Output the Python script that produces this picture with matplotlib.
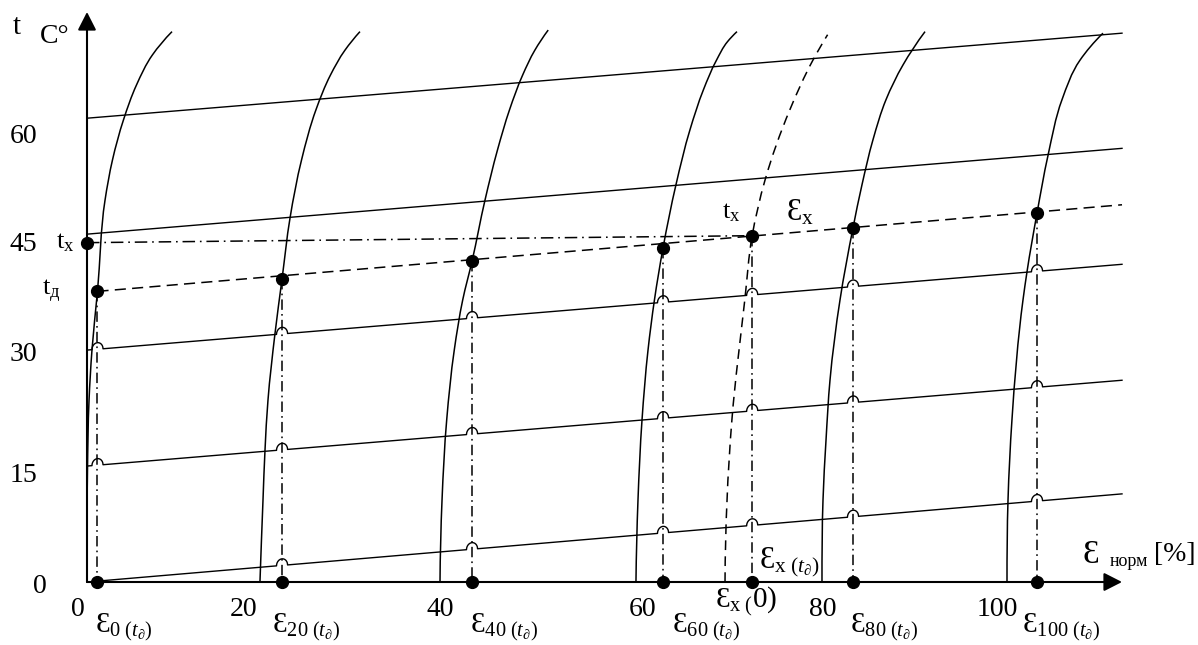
import numpy as np
import matplotlib
matplotlib.use("Agg")
import matplotlib.pyplot as plt
from matplotlib.path import Path
from matplotlib.patches import PathPatch

plt.rcParams['font.family'] = ['Liberation Serif', 'DejaVu Serif']
plt.rcParams['mathtext.fontset'] = 'custom'
plt.rcParams['mathtext.rm'] = 'Liberation Serif'
plt.rcParams['mathtext.it'] = 'Liberation Serif:italic'
plt.rcParams['mathtext.bf'] = 'Liberation Serif:bold'
plt.rcParams['mathtext.fallback'] = 'stix'
plt.rcParams['lines.scale_dashes'] = False

# ---------------- data ----------------
# strain curves eps(t) for the nominal strains 0..100 %
curve_0_eps = [0.0, 0.05, 0.22, 0.54, 1.14, 1.96, 2.77, 3.97, 5.38, 7.12, 9.24]
curve_0_t = [0.0, 14.5, 23.5, 30.0, 37.6, 49.4, 54.6, 59.8, 64.3, 68.2, 71.2]
curve_20_eps = [18.8, 19.13, 19.35, 19.67, 20.43, 21.2, 22.07, 23.32, 24.89, 26.47, 28.04, 29.67]
curve_20_t = [0.0, 10.6, 17.1, 23.5, 32.1, 39.2, 47.1, 54.6, 61.1, 65.6, 68.8, 71.2]
curve_40_eps = [38.37, 38.59, 39.1, 39.92, 40.84, 41.85, 43.26, 44.62, 45.93, 47.36, 48.68, 50.13]
curve_40_t = [0.0, 10.6, 21.0, 30.0, 36.5, 41.5, 49.4, 55.9, 61.1, 65.6, 68.8, 71.4]
curve_60_eps = [59.67, 59.89, 60.33, 60.98, 61.68, 62.61, 64.02, 65.54, 67.01, 68.42, 69.62, 70.65]
curve_60_t = [0.0, 10.6, 21.0, 30.0, 36.5, 43.2, 51.4, 58.5, 63.7, 67.5, 69.9, 71.2]
curve_80_eps = [79.89, 80.0, 80.33, 80.76, 81.85, 83.26, 84.24, 85.43, 86.85, 88.7, 91.09]
curve_80_t = [0.0, 10.6, 18.4, 26.1, 36.5, 45.8, 51.4, 57.2, 62.4, 66.9, 71.2]
curve_100_eps = [100.0, 100.11, 100.54, 101.74, 102.17, 103.26, 104.46, 105.98, 107.93, 110.43]
curve_100_t = [0.0, 10.6, 21.0, 36.5, 40.1, 47.7, 55.2, 62.4, 67.5, 71.0]
# dashed curve eps_x
curve_x_eps = [69.35, 70.1, 71.5, 72.3, 73.7, 76.4, 78.9, 80.5]
curve_x_t = [0.0, 21.0, 36.5, 44.8, 52.0, 61.1, 67.5, 70.8]

# isotherms (solid straight lines) : t at eps=0 and at eps=112.5
iso_start = [0, 15, 30, 45, 60]
iso_end = [11.4, 26.1, 41.1, 56.1, 71.0]
iso_eps_end = 112.5

# dashed t_d line
td_eps = [1.14, 112.5]
td_t = [37.6, 48.8]

# intersection points of t_d line with curves
dot_eps = [1.14, 21.2, 41.85, 62.61, 83.26, 103.26]
dot_t = [37.6, 39.2, 41.5, 43.2, 45.8, 47.7]

# t_x point
tx_eps, tx_t = 72.3, 44.8
tx_axis_t = 43.9

x_ticks = [0, 20, 40, 60, 80, 100]
y_ticks = [0, 15, 30, 45, 60]
sub_labels = ['0', '20', '40', '60', '80', '100']

# ---------------- figure ----------------
W, H = 1198, 645
fig = plt.figure(figsize=(W / 100, H / 100), dpi=100)
ax = fig.add_axes([0, 0, 1, 1])
px_x, px_y = 9.2, 7.73
x0px, y0px = 87, 582
ax.set_xlim(-x0px / px_x, (W - x0px) / px_x)
ax.set_ylim(-(H - y0px) / px_y, y0px / px_y)
ax.axis('off')

K = 'black'


def smooth_path(xs, ts):
    """Cubic Hermite (as Bezier path) through the read points, x as function of t."""
    xs = np.asarray(xs, float)
    ts = np.asarray(ts, float)
    n = len(xs)
    h = np.diff(ts)
    d = np.diff(xs) / h
    m = np.zeros(n)
    for i in range(1, n - 1):
        m[i] = (h[i] * d[i - 1] + h[i - 1] * d[i]) / (h[i - 1] + h[i])
    m[0] = max(0.0, ((2 * h[0] + h[1]) * d[0] - h[0] * d[1]) / (h[0] + h[1]))
    me = ((2 * h[-1] + h[-2]) * d[-1] - h[-1] * d[-2]) / (h[-1] + h[-2])
    m[-1] = min(max(me, d[-1]), 1.4 * d[-1])
    verts = [(xs[0], ts[0])]
    codes = [Path.MOVETO]
    for i in range(n - 1):
        verts += [(xs[i] + m[i] * h[i] / 3, ts[i] + h[i] / 3),
                  (xs[i + 1] - m[i + 1] * h[i] / 3, ts[i + 1] - h[i] / 3),
                  (xs[i + 1], ts[i + 1])]
        codes += [Path.CURVE4] * 3
    return Path(verts, codes)


dashdot = (0, (7.5, 3.0, 1.2, 3.0))

# vertical dash-dot lines
for e, t in zip(dot_eps, dot_t):
    ax.plot([e, e], [t, 0], color=K, lw=1.1, linestyle=dashdot, zorder=2)
ax.plot([tx_eps, tx_eps], [tx_t, 0], color=K, lw=1.1, linestyle=dashdot, zorder=2)

# horizontal dash-dot t_x
ax.plot([0, tx_eps], [tx_axis_t, tx_t], color=K, lw=1.1,
        linestyle=(0, (9, 3.5, 1.2, 3.5)), zorder=2)

# isotherms with hops over the vertical lines
cross_eps = dot_eps + [tx_eps]
cross_top = dot_t + [tx_t]
rx, ry = 0.6, 0.85
for a, b in zip(iso_start, iso_end):
    def tl(e):
        return a + (b - a) * e / iso_eps_end
    xs, ys = [0.0], [a]
    for e, top in sorted(zip(cross_eps, cross_top)):
        if tl(e) >= top or (a == 0 and e < 5):
            continue
        th = np.linspace(np.pi, 0, 19)
        ex = e + rx * np.cos(th)
        xs += list(ex)
        ys += list(tl(ex) + ry * np.sin(th))
    xs.append(iso_eps_end)
    ys.append(b)
    ax.plot(xs, ys, color=K, lw=1.0, zorder=3, solid_joinstyle='round')

# t_d dashed line
ax.plot(td_eps, td_t, color=K, lw=1.1, linestyle=(0, (8, 4.5)), zorder=3)

# strain curves
for ce, ct in [(curve_0_eps, curve_0_t), (curve_20_eps, curve_20_t),
               (curve_40_eps, curve_40_t), (curve_60_eps, curve_60_t),
               (curve_80_eps, curve_80_t), (curve_100_eps, curve_100_t)]:
    ax.add_patch(PathPatch(smooth_path(ce, ct), fill=False, ec=K, lw=1.1, zorder=4))
ax.add_patch(PathPatch(smooth_path(curve_x_eps, curve_x_t), fill=False, ec=K,
                       lw=1.1, linestyle=(0, (7, 4.5)), zorder=4))

# axes with arrows
arrow = dict(arrowstyle='-|>,head_length=0.55,head_width=0.28',
             lw=1.5, color=K, shrinkA=0, shrinkB=0, mutation_scale=20)
ax.annotate('', xy=(0, (y0px - 12) / px_y), xytext=(0, 0), arrowprops=arrow, zorder=5)
ax.annotate('', xy=(iso_eps_end, 0), xytext=(0, 0), arrowprops=arrow, zorder=5)

# dots
ms = 8.5
ax.plot(dot_eps, dot_t, 'o', color=K, ms=ms, zorder=6)
ax.plot(dot_eps, [0] * len(dot_eps), 'o', color=K, ms=ms, zorder=6)
ax.plot([tx_eps, tx_eps, 0], [tx_t, 0, tx_axis_t], 'o', color=K, ms=ms, zorder=6)

# ---------------- text ----------------
fs = 20
ax.text(-7.6, 71.8, 't', fontsize=21, ha='center', va='center')
ax.text(-3.5, 70.6, 'C°', fontsize=20, ha='center', va='center')
ytick_pos = [-0.6, 13.8, 29.4, 43.6, 57.6]
for v, yp in zip(y_ticks, ytick_pos):
    ax.text(-4.35 if v == 0 else -5.4, yp, str(v), fontsize=fs, ha='right', va='center')
xtick_pos = [-1.0, 17.0, 38.4, 60.4, 80.0, 98.9]
for v, xp in zip(x_ticks, xtick_pos):
    ax.text(xp, -3.6, str(v), fontsize=fs, ha='center', va='center')

lab_pos = [0.9, 20.1, 41.6, 63.6, 82.9, 101.6]
for s, xp in zip(sub_labels, lab_pos):
    ax.text(xp, -5.85, r'$\mathrm{Ɛ}_{\mathrm{%s\ (}t_{\partial}\mathrm{)}}$' % s,
            fontsize=21, ha='left', va='center')

ax.text(-3.4, 43.9, r'$\mathrm{t}_{\mathrm{x}}$', fontsize=19, ha='left', va='center')
ax.text(-4.9, 37.6, r'$\mathrm{t}_{\mathrm{д}}$', fontsize=19, ha='left', va='center')
ax.text(69.0, 47.8, r'$\mathrm{t}_{\mathrm{x}}$', fontsize=19, ha='left', va='center')
ax.text(76.0, 47.8, r'$\mathrm{Ɛ}_{\mathrm{x}}$', fontsize=22, ha='left', va='center')
ax.text(73.0, 2.6, r'$\mathrm{Ɛ}_{\mathrm{x\ (}t_{\partial}\mathrm{)}}$', fontsize=22,
        ha='left', va='center')
ax.text(68.3, -2.5, r'$\mathrm{Ɛ}_{\mathrm{x\ (}}\mathit{0}\mathrm{)}$', fontsize=21,
        ha='left', va='center')
ax.text(108.2, 3.5, 'Ɛ', fontsize=24, ha='left', va='center')
ax.text(111.2, 2.6, 'норм', fontsize=13, ha='left', va='center')
ax.text(116.0, 3.5, '[%]', fontsize=20, ha='left', va='center')

fig.savefig('out.png', dpi=100, facecolor='white')
